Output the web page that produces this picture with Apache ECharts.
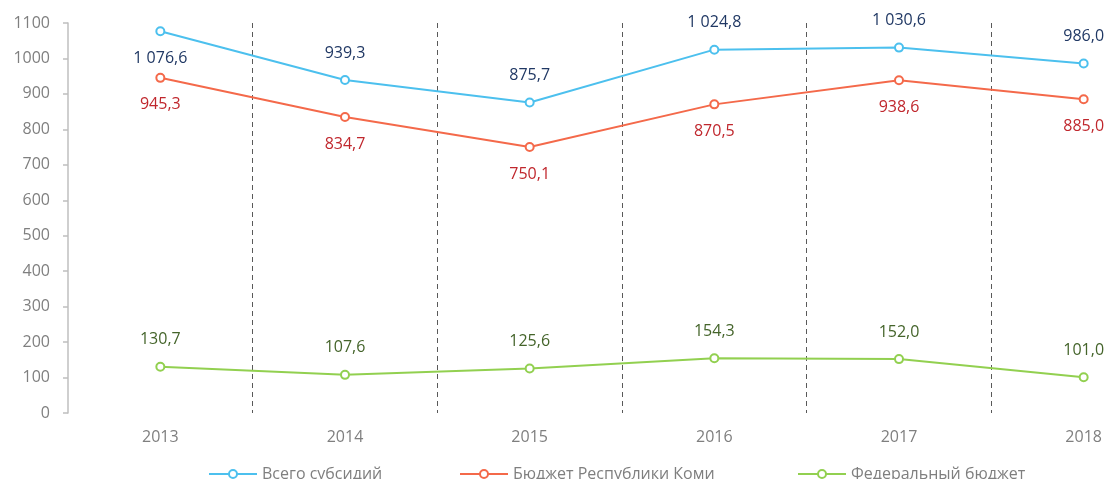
<!DOCTYPE html>
<html>
<head>
<meta charset="utf-8">
<script src="https://cdn.jsdelivr.net/npm/echarts@6/dist/echarts.min.js"></script>
<style>
  html, body { margin: 0; padding: 0; background: #fff; }
  #chart { width: 1107px; height: 479px; }
</style>
</head>
<body>
<div id="chart"></div>
<script>
// годы и значения (млн руб.)
const years = ['2013', '2014', '2015', '2016', '2017', '2018'];
const total = [1076.6, 939.3, 875.7, 1024.8, 1030.6, 986.0];
const komi = [945.3, 834.7, 750.1, 870.5, 938.6, 885.0];
const federal = [130.7, 107.6, 125.6, 154.3, 152.0, 101.0];
const seriesNames = ['Всего субсидий', 'Бюджет Республики Коми', 'Федеральный бюджет'];

const FONT = '"Open Sans", "Noto Sans", sans-serif';

// 1 076,6 — пробел для тысяч, запятая для дробной части
function fmt(v) {
  const parts = v.toFixed(1).split('.');
  const intPart = parts[0].replace(/\B(?=(\d{3})+(?!\d))/g, ' ');
  return intPart + ',' + parts[1];
}

function makeSeries(name, values, color, labelColor, pos) {
  return {
    name: name,
    type: 'line',
    data: values.map((v, i) => {
      // у первой точки "Всего субсидий" подпись снизу
      if (name === seriesNames[0] && i === 0) {
        return {value: v, label: {position: 'bottom'}};
      }
      return v;
    }),
    symbol: 'emptyCircle',
    symbolSize: 8,
    lineStyle: {color: color, width: 2},
    itemStyle: {color: color, borderWidth: 2},
    label: {
      show: true,
      position: pos,
      distance: 14,
      color: labelColor,
      fontSize: 16,
      fontFamily: FONT,
      formatter: p => fmt(p.value)
    },
    emphasis: {disabled: true}
  };
}

const legendText = {color: '#7f7f7f', fontSize: 16, fontFamily: FONT};
const legendLefts = [208, 459, 797];

const myChart = echarts.init(document.getElementById('chart'));
const option = {
  animation: false,
  grid: {left: 68, top: 23, right: -69, bottom: 66, outerBoundsMode: 'none'},
  legend: seriesNames.map((n, i) => ({
    data: [n],
    left: legendLefts[i],
    top: 466,
    padding: 0,
    itemWidth: 48,
    itemHeight: 10,
    itemGap: 4,
    textStyle: legendText,
    selectedMode: false
  })),
  xAxis: {
    type: 'category',
    data: years,
    boundaryGap: true,
    axisLine: {show: false},
    axisTick: {show: false},
    axisLabel: {
      color: '#7f7f7f',
      fontSize: 16,
      fontFamily: FONT,
      margin: 16
    },
    splitLine: {
      show: true,
      interval: 0,
      showMinLine: false,
      lineStyle: {color: '#595959', type: [5, 4], width: 1}
    }
  },
  yAxis: {
    type: 'value',
    min: 0,
    max: 1100,
    interval: 100,
    axisLine: {show: true, lineStyle: {color: '#bfbfbf', width: 1.5}},
    axisTick: {show: true, length: 5, lineStyle: {color: '#bfbfbf', width: 1.5}},
    axisLabel: {
      color: '#7f7f7f',
      fontSize: 16,
      fontFamily: FONT,
      margin: 18,
      formatter: v => String(v)
    },
    splitLine: {show: false}
  },
  series: [
    makeSeries(seriesNames[0], total, '#4cc0ee', '#203864', 'top'),
    makeSeries(seriesNames[1], komi, '#f4694a', '#c0272d', 'bottom'),
    makeSeries(seriesNames[2], federal, '#92d050', '#44642a', 'top')
  ]
};
myChart.setOption(option);
</script>
</body>
</html>
